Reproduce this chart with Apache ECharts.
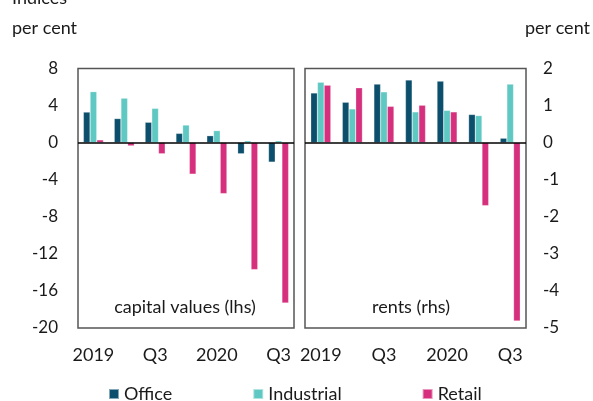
<!DOCTYPE html>
<html>
<head>
<meta charset="utf-8">
<script src="https://cdn.jsdelivr.net/npm/echarts@6/dist/echarts.min.js"></script>
<style>html,body{margin:0;padding:0;background:#fff;}#c{width:593px;height:401px;}</style>
</head>
<body>
<div id="c"></div>
<script>
const categories = ['2019','Q2','Q3','Q4','2020','Q2','Q3'];
const seriesNames = ['Office','Industrial','Retail'];
const capOffice = [3.3, 2.6, 2.2, 1.0, 0.75, -1.2, -2.1];
const capIndustrial = [5.5, 4.8, 3.7, 1.9, 1.3, 0.2, 0.2];
const capRetail = [0.3, -0.35, -1.2, -3.4, -5.5, -13.7, -17.3];
const rentOffice = [1.34, 1.09, 1.58, 1.69, 1.66, 0.76, 0.12];
const rentIndustrial = [1.63, 0.91, 1.37, 0.83, 0.87, 0.73, 1.58];
const rentRetail = [1.55, 1.48, 0.98, 1.01, 0.83, -1.70, -4.81];
const leftTicks = {min: -20, max: 8, interval: 4};
const rightTicks = {min: -5, max: 2, interval: 1};

const colors = {Office: '#0b4f6c', Industrial: '#5fc8c2', Retail: '#d52f7d'};
const FONT = 'Lato';
const txt = '#1a1a1a';

const chart = echarts.init(document.getElementById('c'), null, {renderer: 'canvas'});

function bar(name, data, idx) {
  const s = {
    name: name, type: 'bar', data: data,
    xAxisIndex: idx, yAxisIndex: idx,
    barWidth: 6.7, barGap: '0%',
    itemStyle: {color: colors[name], borderColor: 'rgba(255,255,255,0.5)', borderWidth: 0.5},
    emphasis: {disabled: true}
  };
  if (name === 'Retail') {
    s.markLine = {silent: true, symbol: 'none', label: {show: false},
      lineStyle: {color: '#000', width: 1.5, type: 'solid'}, data: [{yAxis: 0}], animation: false};
  }
  return s;
}

const xAxisBase = {
  type: 'category', data: categories,
  axisLine: {show: false, onZero: false}, axisTick: {show: false},
  axisLabel: {interval: 1, color: txt, fontFamily: FONT, fontSize: 18, margin: 18},
  splitLine: {show: false}
};

chart.setOption({
  animation: false,
  textStyle: {fontFamily: FONT},
  grid: [
    {left: 78, right: 299, top: 68.5, bottom: 73, show: true, borderColor: '#555', borderWidth: 1.5},
    {left: 305, right: 67, top: 68.5, bottom: 73, show: true, borderColor: '#555', borderWidth: 1.5}
  ],
  xAxis: [
    Object.assign({gridIndex: 0}, xAxisBase),
    Object.assign({gridIndex: 1}, xAxisBase)
  ],
  yAxis: [
    {type: 'value', gridIndex: 0, position: 'left', min: leftTicks.min, max: leftTicks.max, interval: leftTicks.interval,
     axisLine: {show: false}, axisTick: {show: false}, splitLine: {show: false},
     axisLabel: {color: txt, fontFamily: FONT, fontSize: 17, margin: 20}},
    {type: 'value', gridIndex: 1, position: 'right', min: rightTicks.min, max: rightTicks.max, interval: rightTicks.interval,
     axisLine: {show: false}, axisTick: {show: false}, splitLine: {show: false},
     axisLabel: {color: txt, fontFamily: FONT, fontSize: 17, margin: 17}}
  ],
  legend: {
    data: seriesNames, left: 108, top: 385, padding: 0, itemWidth: 10, itemHeight: 10, itemGap: 80,
    icon: 'rect', textStyle: {color: txt, fontFamily: FONT, fontSize: 18}
  },
  series: [
    bar('Office', capOffice, 0), bar('Industrial', capIndustrial, 0), bar('Retail', capRetail, 0),
    bar('Office', rentOffice, 1), bar('Industrial', rentIndustrial, 1), bar('Retail', rentRetail, 1)
  ],
  graphic: [
    {type: 'text', x: 12, y: 7, style: {text: 'Indices', font: '18px Lato', fill: txt, verticalAlign: 'bottom'}},
    {type: 'text', x: 12, y: 28, style: {text: 'per cent', font: '18px Lato', fill: txt, verticalAlign: 'middle'}},
    {type: 'text', x: 590, y: 28, style: {text: 'per cent', font: '18px Lato', fill: txt, align: 'right', verticalAlign: 'middle'}},
    {type: 'text', x: 185, y: 307, style: {text: 'capital values (lhs)', font: '18px Lato', fill: txt, align: 'center', verticalAlign: 'middle'}},
    {type: 'text', x: 411, y: 307, style: {text: 'rents (rhs)', font: '18px Lato', fill: txt, align: 'center', verticalAlign: 'middle'}}
  ]
});
</script>
</body>
</html>
